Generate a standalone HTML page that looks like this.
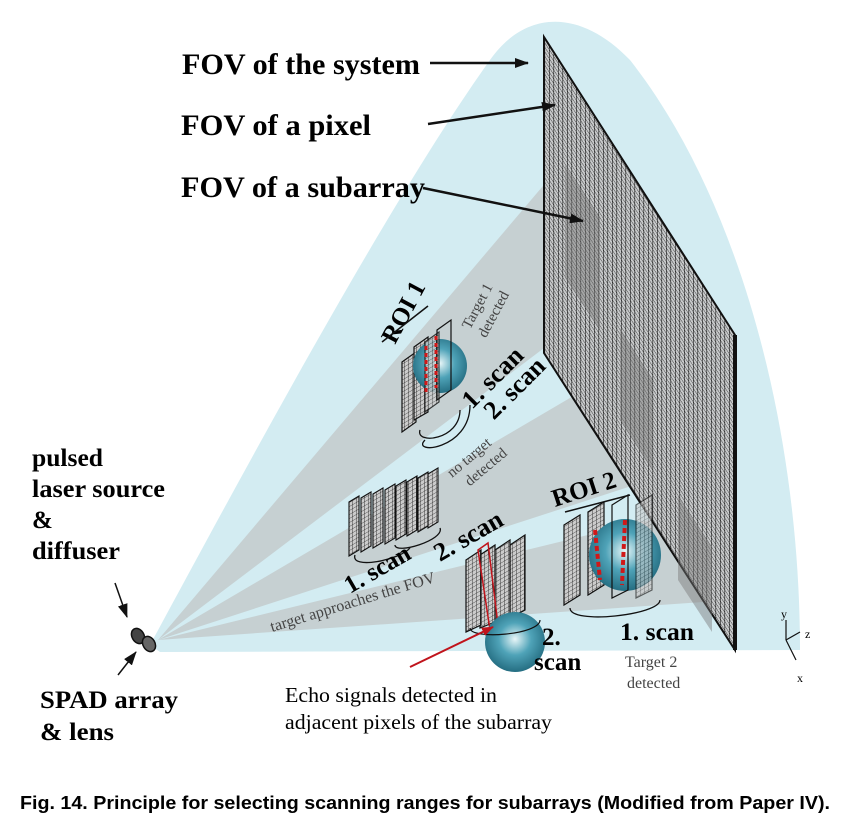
<!DOCTYPE html>
<html><head><meta charset="utf-8"><style>
html,body{margin:0;padding:0;background:#fff;}
svg{display:block;}
.s{font-family:"Liberation Serif",serif;}
</style></head><body>
<svg width="841" height="830" viewBox="0 0 841 830" xmlns="http://www.w3.org/2000/svg">
<defs>
<pattern id="g" width="4.5" height="4.5" patternUnits="userSpaceOnUse" patternTransform="skewY(57)">
<rect width="4.5" height="4.5" fill="#c8cacb"/>
<path d="M0 0H4.5M0 0V4.5" stroke="#111" stroke-width="1.2"/>
</pattern>
<pattern id="g2" width="4" height="4" patternUnits="userSpaceOnUse" patternTransform="skewY(-30)">
<rect width="4" height="4" fill="#ccc"/>
<path d="M0 0H4M0 0V4" stroke="#222" stroke-width="0.8"/>
</pattern>
<radialGradient id="sp" cx="0.5" cy="0.45" r="0.6">
<stop offset="0" stop-color="#e8f6f8"/><stop offset="0.45" stop-color="#4fa3b8"/><stop offset="1" stop-color="#1d6478"/>
</radialGradient>
<marker id="ah" markerWidth="14" markerHeight="10" refX="13" refY="5" orient="auto" markerUnits="userSpaceOnUse" viewBox="0 0 14 10"><path d="M0 0L14 5L0 10Z" fill="#111"/></marker>
<marker id="ar" markerWidth="12" markerHeight="9" refX="11" refY="4.5" orient="auto" markerUnits="userSpaceOnUse" viewBox="0 0 12 9"><path d="M0 0L12 4.5L0 9Z" fill="#c0141c"/></marker>
</defs>
<path d="M150,645 C250,460 390,200 490,60 C525,10 580,8 630,60 C740,200 800,430 800,650 L160,652 Z" fill="#d3ecf2"/>
<polygon points="158,640 548,180 548,345" fill="#c3cbcd" opacity="0.85"/>
<polygon points="158,640 575,395 650,480" fill="#c3cbcd" opacity="0.85"/>
<polygon points="158,640 690,510 732,600" fill="#c3cbcd" opacity="0.85"/>
<polygon points="544,37 735,335 735,650 544,353" fill="url(#g)" stroke="#111" stroke-width="2"/>
<polygon points="565,165 600,218 600,330 565,278" fill="#777" opacity="0.45"/>
<polygon points="620,328 652,378 652,470 620,420" fill="#777" opacity="0.45"/>
<polygon points="678,495 712,547 712,632 678,580" fill="#777" opacity="0.45"/>
<line x1="735" y1="335" x2="735" y2="650" stroke="#111" stroke-width="4"/>
<text class="s" x="182" y="74" font-size="30" font-weight="bold" textLength="238" lengthAdjust="spacingAndGlyphs">FOV of the system</text>
<line x1="430" y1="63" x2="528" y2="63" stroke="#111" stroke-width="2.5" marker-end="url(#ah)"/>
<text class="s" x="181" y="135" font-size="30" font-weight="bold" textLength="190" lengthAdjust="spacingAndGlyphs">FOV of a pixel</text>
<line x1="428" y1="124" x2="555" y2="105" stroke="#111" stroke-width="2.5" marker-end="url(#ah)"/>
<text class="s" x="181" y="197" font-size="30" font-weight="bold" textLength="244" lengthAdjust="spacingAndGlyphs">FOV of a subarray</text>
<line x1="423" y1="188" x2="583" y2="221" stroke="#111" stroke-width="2.5" marker-end="url(#ah)"/>
<g stroke="#111" stroke-width="1.2">
<polygon points="402,362 416,352 416,422 402,432" fill="url(#g2)"/>
<polygon points="414,347 428,337 428,412 414,420" fill="url(#g2)"/>
<circle cx="440" cy="366" r="27" fill="url(#sp)" stroke="none"/>
<polygon points="425,342 439,332 439,402 425,412" fill="url(#g2)" opacity="0.8"/>
<polygon points="437,330 451,320 451,390 437,400" fill="none"/>
</g>
<path d="M426,346 L426,395 M436,336 L436,388" stroke="#d01818" stroke-width="3" stroke-dasharray="4 3"/>
<path d="M420,430 C415,445 460,440 460,410 M425,440 C410,455 470,450 470,405" fill="none" stroke="#111" stroke-width="1.3"/>
<g transform="translate(395,345) rotate(-62)"><text class="s" x="0" y="0" font-size="25" font-weight="bold">ROI 1</text></g>
<line x1="382" y1="342" x2="428" y2="306" stroke="#111" stroke-width="1.5"/>
<g transform="translate(470,330) rotate(-62)"><text class="s" x="0" y="0" font-size="15" fill="#444">Target 1</text><text class="s" x="0" y="18" font-size="15" fill="#444">detected</text></g>
<g transform="translate(472,410) rotate(-45)"><text class="s" x="0" y="0" font-size="26" font-weight="bold">1. scan</text><text class="s" x="8" y="23" font-size="26" font-weight="bold">2. scan</text></g>
<g stroke="#111" stroke-width="1.1" fill="url(#g2)">
<polygon points="428,474 438,468 438,522 428,528"/>
<polygon points="418,478 428,472 428,526 418,532"/>
<polygon points="407,482 417,476 417,530 407,536"/>
<polygon points="396,486 406,480 406,534 396,540"/>
<polygon points="385,490 395,484 395,538 385,544"/>
<polygon points="373,494 383,488 383,542 373,548"/>
<polygon points="361,498 371,492 371,546 361,552"/>
<polygon points="349,502 359,496 359,550 349,556"/>
</g>
<path d="M355,555 C350,570 400,560 410,548 M395,545 C395,555 445,540 440,528" fill="none" stroke="#111" stroke-width="1.3"/>
<g transform="translate(452,478) rotate(-40)"><text class="s" x="0" y="0" font-size="15" fill="#444">no target</text><text class="s" x="8" y="18" font-size="15" fill="#444">detected</text></g>
<g transform="translate(350,594) rotate(-30)"><text class="s" x="0" y="0" font-size="25" font-weight="bold">1. scan</text></g>
<g transform="translate(440,562) rotate(-30)"><text class="s" x="0" y="0" font-size="26" font-weight="bold">2. scan</text></g>
<g stroke="#111" stroke-width="1.2" fill="url(#g2)">
<polygon points="510,545 525,535 525,610 510,618"/>
<polygon points="495,550 510,540 510,615 495,623"/>
<polygon points="480,555 495,545 495,622 480,628"/>
<polygon points="466,560 481,550 481,625 466,632"/>
</g>
<polygon points="478,550 488,543 498,625 490,630" fill="none" stroke="#c0141c" stroke-width="1.5"/>
<circle cx="515" cy="642" r="30" fill="url(#sp)"/>
<path d="M470,628 C470,640 540,635 540,620" fill="none" stroke="#111" stroke-width="1.2"/>
<text class="s" x="542" y="645" font-size="25" font-weight="bold">2.</text>
<text class="s" x="534" y="670" font-size="25" font-weight="bold">scan</text>
<g transform="translate(272,632) rotate(-17)"><text class="s" x="0" y="0" font-size="16" fill="#444">target approaches the FOV</text></g>
<line x1="410" y1="667" x2="493" y2="627" stroke="#c0141c" stroke-width="2" marker-end="url(#ar)"/>
<g stroke="#111" stroke-width="1.2">
<polygon points="564,525 580,515 580,595 564,605" fill="url(#g2)"/>
<polygon points="588,512 604,502 604,585 588,595" fill="url(#g2)"/>
<circle cx="625" cy="555" r="36" fill="url(#sp)" stroke="none"/>
<polygon points="612,505 628,495 628,590 612,598" fill="none"/>
<polygon points="636,505 652,495 652,590 636,598" fill="url(#g2)" opacity="0.6"/>
</g>
<path d="M595,530 L600,580 M625,520 L622,585" stroke="#d01818" stroke-width="4" stroke-dasharray="5 3"/>
<path d="M570,608 C570,625 660,615 660,600" fill="none" stroke="#111" stroke-width="1.3"/>
<g transform="translate(555,507) rotate(-18)"><text class="s" x="0" y="0" font-size="25" font-weight="bold">ROI 2</text></g>
<line x1="565" y1="512" x2="630" y2="495" stroke="#111" stroke-width="1.5"/>
<text class="s" x="620" y="640" font-size="25" font-weight="bold" textLength="74" lengthAdjust="spacingAndGlyphs">1. scan</text>
<text class="s" x="625" y="667" font-size="16" fill="#444">Target 2</text>
<text class="s" x="627" y="688" font-size="16" fill="#444">detected</text>
<g stroke="#111" stroke-width="1.2" fill="none"><path d="M786,640 L786,620 M786,640 L800,632 M786,640 L796,660"/></g>
<text class="s" x="781" y="618" font-size="12">y</text><text class="s" x="805" y="638" font-size="12">z</text><text class="s" x="797" y="682" font-size="12">x</text>
<g stroke="#111" stroke-width="1.5"><ellipse cx="138" cy="636" rx="6" ry="8" fill="#444" transform="rotate(-30 138 636)"/><ellipse cx="149" cy="644" rx="6" ry="8" fill="#666" transform="rotate(-30 149 644)"/></g>
<text class="s" x="32" y="466" font-size="25" font-weight="bold" textLength="71" lengthAdjust="spacingAndGlyphs">pulsed</text>
<text class="s" x="32" y="497" font-size="25" font-weight="bold" textLength="133" lengthAdjust="spacingAndGlyphs">laser source</text>
<text class="s" x="32" y="528" font-size="25" font-weight="bold">&amp;</text>
<text class="s" x="32" y="559" font-size="25" font-weight="bold" textLength="88" lengthAdjust="spacingAndGlyphs">diffuser</text>
<line x1="115" y1="583" x2="127" y2="617" stroke="#111" stroke-width="1.5" marker-end="url(#ah)"/>
<line x1="118" y1="675" x2="136" y2="652" stroke="#111" stroke-width="1.5" marker-end="url(#ah)"/>
<text class="s" x="40" y="708" font-size="25" font-weight="bold" textLength="138" lengthAdjust="spacingAndGlyphs">SPAD array</text>
<text class="s" x="40" y="740" font-size="25" font-weight="bold" textLength="74" lengthAdjust="spacingAndGlyphs">&amp; lens</text>
<text class="s" x="285" y="702" font-size="21" textLength="212" lengthAdjust="spacingAndGlyphs">Echo signals detected in</text>
<text class="s" x="285" y="729" font-size="21" textLength="267" lengthAdjust="spacingAndGlyphs">adjacent pixels of the subarray</text>
<text x="20" y="809" font-family="Liberation Sans, sans-serif" font-size="18" font-weight="bold" textLength="810" lengthAdjust="spacingAndGlyphs">Fig. 14. Principle for selecting scanning ranges for subarrays (Modified from Paper IV).</text>
</svg>
</body></html>
